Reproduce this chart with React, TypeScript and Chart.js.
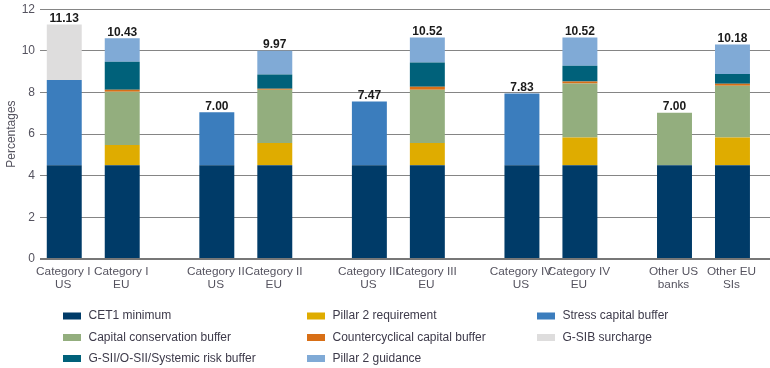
import React, { useEffect, useRef } from 'react';
import { Chart, registerables } from 'chart.js';

Chart.register(...registerables);

// ---- data ----
const groups = ['Category I', 'Category II', 'Category III', 'Category IV', 'Other'];
const xLabelsUS = [['Category I', 'US'], ['Category II', 'US'], ['Category III', 'US'], ['Category IV', 'US'], ['Other US', 'banks']];
const xLabelsEU = [['Category I', 'EU'], ['Category II', 'EU'], ['Category III', 'EU'], ['Category IV', 'EU'], ['Other EU', 'SIs']];
const totalsUS = ['11.13', '7.00', '7.47', '7.83', '7.00'];
const totalsEU = ['10.43', '9.97', '10.52', '10.52', '10.18'];

const cet1US = [4.5, 4.5, 4.5, 4.5, 4.5];
const cet1EU = [4.5, 4.5, 4.5, 4.5, 4.5];
const pillar2ReqUS = [0, 0, 0, 0, 0];
const pillar2ReqEU = [0.98, 1.07, 1.07, 1.34, 1.34];
const stressBufferUS = [4.1, 2.55, 3.07, 3.45, 0];
const stressBufferEU = [0, 0, 0, 0, 0];
const conservationUS = [0, 0, 0, 0, 2.52];
const conservationEU = [2.55, 2.56, 2.56, 2.59, 2.48];
const countercyclicalUS = [0, 0, 0, 0, 0];
const countercyclicalEU = [0.1, 0.05, 0.14, 0.1, 0.1];
const gsibUS = [2.66, 0, 0, 0, 0];
const gsibEU = [0, 0, 0, 0, 0];
const systemicUS = [0, 0, 0, 0, 0];
const systemicEU = [1.35, 0.68, 1.17, 0.75, 0.47];
const pillar2GuidanceUS = [0, 0, 0, 0, 0];
const pillar2GuidanceEU = [1.13, 1.15, 1.2, 1.36, 1.41];

const seriesNames = [
  'CET1 minimum',
  'Pillar 2 requirement',
  'Stress capital buffer',
  'Capital conservation buffer',
  'Countercyclical capital buffer',
  'G-SIB surcharge',
  'G-SII/O-SII/Systemic risk buffer',
  'Pillar 2 guidance',
];
const seriesColors = ['#003B68', '#DFAC00', '#3B7DBD', '#93AE7E', '#D86F16', '#DEDDDD', '#00617A', '#80AAD6'];
const seriesUS = [cet1US, pillar2ReqUS, stressBufferUS, conservationUS, countercyclicalUS, gsibUS, systemicUS, pillar2GuidanceUS];
const seriesEU = [cet1EU, pillar2ReqEU, stressBufferEU, conservationEU, countercyclicalEU, gsibEU, systemicEU, pillar2GuidanceEU];

const FONT = '"Liberation Sans", Arial, Helvetica, sans-serif';
const TEXT = '#55535f';

const overlayPlugin = {
  id: 'overlay',
  afterDatasetsDraw(chart: any) {
    const ctx = chart.ctx;
    const yScale = chart.scales.y;
    const ds = chart.data.datasets;
    ctx.save();
    const stacks: [string, string[], string[][]][] = [
      ['US', totalsUS, xLabelsUS],
      ['EU', totalsEU, xLabelsEU],
    ];
    stacks.forEach(([stackId, totals, labels]) => {
      const firstIdx = ds.findIndex((d: any) => d.stack === stackId);
      const meta = chart.getDatasetMeta(firstIdx);
      groups.forEach((_, i) => {
        const bar = meta.data[i];
        if (!bar) return;
        let sum = 0;
        ds.forEach((d: any) => {
          if (d.stack === stackId) sum += d.data[i].y;
        });
        const topPx = yScale.getPixelForValue(sum);
        ctx.font = 'bold 12px ' + FONT;
        ctx.fillStyle = '#1a1a1a';
        ctx.textAlign = 'center';
        ctx.textBaseline = 'alphabetic';
        ctx.fillText(totals[i], bar.x, topPx - 2.5);
        ctx.font = '11.8px ' + FONT;
        ctx.fillStyle = TEXT;
        ctx.textBaseline = 'middle';
        ctx.fillText(labels[i][0], bar.x - 1, yScale.bottom + 12.5);
        ctx.fillText(labels[i][1], bar.x - 1, yScale.bottom + 26);
      });
    });
    // legend
    const colX = [63, 307, 537];
    const rowY = [316, 337.5, 358.5];
    ctx.font = '12px ' + FONT;
    ctx.textAlign = 'left';
    ctx.textBaseline = 'middle';
    seriesNames.forEach((name, k) => {
      const c = k % 3;
      const r = Math.floor(k / 3);
      ctx.fillStyle = seriesColors[k];
      ctx.fillRect(colX[c], rowY[r] - 3.5, 18, 7);
      ctx.fillStyle = '#3d3a4a';
      ctx.fillText(name, colX[c] + 25.5, rowY[r]);
    });
    ctx.restore();
  },
};

export default function App() {
  const ref = useRef<HTMLCanvasElement | null>(null);
  useEffect(() => {
    if (!ref.current) return;
    const datasets: any[] = [];
    seriesNames.forEach((name, k) => {
      datasets.push({
        label: name,
        stack: 'US',
        data: seriesUS[k].map((v, i) => ({ x: i, y: v })),
        backgroundColor: seriesColors[k],
        borderWidth: 0,
      });
      datasets.push({
        label: name,
        stack: 'EU',
        data: seriesEU[k].map((v, i) => ({ x: i, y: v })),
        backgroundColor: seriesColors[k],
        borderWidth: 0,
      });
    });
    const chart = new Chart(ref.current, {
      type: 'bar',
      data: { datasets },
      options: {
        responsive: false,
        animation: false,
        devicePixelRatio: 1,
        categoryPercentage: 0.76,
        barPercentage: 0.603,
        layout: { padding: { left: 0, right: 0, top: 9, bottom: 109 } },
        plugins: { legend: { display: false }, tooltip: { enabled: false } },
        scales: {
          x: {
            type: 'linear',
            offset: false,
            min: -0.349,
            max: 4.436,
            stacked: true,
            ticks: { display: false },
            grid: { display: false, drawTicks: false },
            border: { display: false },
            afterBuildTicks: (s: any) => {
              s.ticks = groups.map((_, i) => ({ value: i }));
            },
          },
          y: {
            stacked: true,
            min: 0,
            max: 12,
            ticks: { stepSize: 2, color: TEXT, font: { size: 12, family: FONT, lineHeight: 0.7 }, padding: 5 },
            grid: {
              drawTicks: false,
              color: (c: any) => (c.tick && c.tick.value === 0 ? '#777777' : '#858585'),
              lineWidth: (c: any) => (c.tick && c.tick.value === 0 ? 2 : 1),
            },
            border: { display: false },
            title: { display: true, text: 'Percentages', color: TEXT, font: { size: 12, family: FONT }, padding: { top: 4, bottom: 0 } },
            afterFit: (s: any) => {
              s.width = 40;
            },
          },
        },
      },
      plugins: [overlayPlugin],
    } as any);
    return () => chart.destroy();
  }, []);
  return (
    <div style={{ position: 'fixed', left: 0, top: 0, width: 770, height: 368, background: '#fff' }}>
      <canvas ref={ref} width={770} height={368} style={{ display: 'block' }} />
    </div>
  );
}
